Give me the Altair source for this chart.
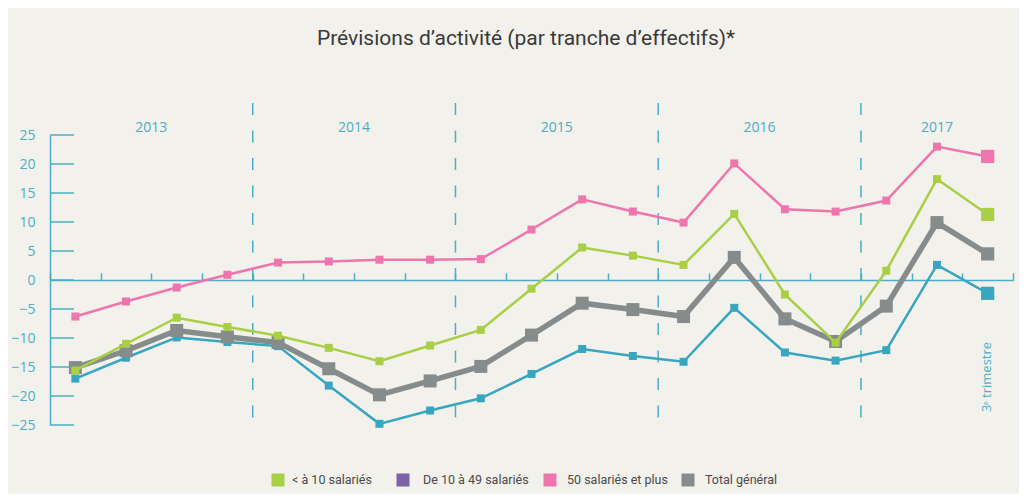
import altair as alt
import pandas as pd

# ---------------- data ----------------
quarters = [
    "2013 T1", "2013 T2", "2013 T3", "2013 T4",
    "2014 T1", "2014 T2", "2014 T3", "2014 T4",
    "2015 T1", "2015 T2", "2015 T3", "2015 T4",
    "2016 T1", "2016 T2", "2016 T3", "2016 T4",
    "2017 T1", "2017 T2", "2017 T3",
]
years = [q.split(" ")[0] for q in quarters]

series_names = ["< à 10 salariés", "De 10 à 49 salariés", "50 salariés et plus", "Total général"]

small = [-15.6, -11.0, -6.5, -8.1, -9.6, -11.7, -14.0, -11.3, -8.6, -1.5,
         5.6, 4.2, 2.6, 11.4, -2.5, -10.8, 1.6, 17.4, 11.3]
medium = [-17.0, -13.4, -9.9, -10.7, -11.4, -18.2, -24.8, -22.5, -20.4, -16.2,
          -11.9, -13.1, -14.1, -4.8, -12.5, -13.9, -12.1, 2.6, -2.3]
large = [-6.3, -3.7, -1.3, 0.9, 3.0, 3.2, 3.5, 3.5, 3.6, 8.7,
         13.9, 11.8, 9.9, 20.1, 12.2, 11.8, 13.7, 23.0, 21.3]
total = [-15.1, -12.2, -8.7, -9.8, -10.8, -15.3, -19.8, -17.4, -14.9, -9.5,
         -4.0, -5.1, -6.3, 3.9, -6.7, -10.6, -4.5, 9.9, 4.5]

y_ticks = [-25, -20, -15, -10, -5, 0, 5, 10, 15, 20, 25]

title_text = "Prévisions d’activité (par tranche d’effectifs)*"
note_text = "3ᵉ trimestre"

# ---------------- styles ----------------
TEAL_AXIS = "#4aaec7"
BG = "#f2f1ec"
line_colors = {
    "< à 10 salariés": "#a8cf45",
    "De 10 à 49 salariés": "#38a6c0",
    "50 salariés et plus": "#ef76ac",
    "Total général": "#868b8c",
}
legend_colors = ["#a8cf45", "#7a62a4", "#ef76ac", "#868b8c"]

# ---------------- tables ----------------
values_by_series = {
    "< à 10 salariés": small,
    "De 10 à 49 salariés": medium,
    "50 salariés et plus": large,
    "Total général": total,
}
rows = []
for s, vals in values_by_series.items():
    for i, (q, v) in enumerate(zip(quarters, vals)):
        rows.append({"idx": i, "quarter": q, "series": s, "value": v})
df = pd.DataFrame(rows)
last_idx = len(quarters) - 1

sep_df = pd.DataFrame({"idx": [i - 0.5 for i in range(1, len(years)) if years[i] != years[i - 1]]})
year_df = (
    pd.DataFrame({"year": years, "idx": range(len(years))})
    .groupby("year", as_index=False)["idx"].mean()
)
ytick_df = pd.DataFrame({"value": y_ticks})

xscale = alt.Scale(domain=[-0.5, len(quarters) - 0.5], nice=False, zero=False)
yscale = alt.Scale(domain=[min(y_ticks), max(y_ticks)], nice=False, zero=False)

x_axis = alt.Axis(
    orient="top", offset=-145, values=[i - 0.5 for i in range(len(quarters) + 1)],
    tickSize=7, tickColor=TEAL_AXIS, tickWidth=1.5, domainColor=TEAL_AXIS,
    domainWidth=1.5, labels=False, title=None, grid=False,
)
y_axis = alt.Axis(
    values=y_ticks, ticks=False, domainColor=TEAL_AXIS, domainWidth=1.5,
    labelColor=TEAL_AXIS, labelFont="Open Sans", labelFontSize=14,
    labelPadding=15, grid=False, title=None, labelOverlap=False,
    labelFlush=False,
)

X = alt.X("idx:Q", scale=xscale, axis=x_axis)
Y = alt.Y("value:Q", scale=yscale, axis=y_axis)

layers = []

# year separators
layers.append(
    alt.Chart(sep_df).mark_rule(color=TEAL_AXIS, strokeWidth=1.5, strokeDash=[12, 15.5]).encode(
        x=X, y=alt.value(-32), y2=alt.value(290)
    )
)
# year labels
layers.append(
    alt.Chart(year_df).mark_text(color=TEAL_AXIS, font="Open Sans", fontSize=14, baseline="middle").encode(
        x=X, y=alt.value(-7), text="year:N"
    )
)
# inward y ticks
layers.append(
    alt.Chart(ytick_df).mark_rule(color=TEAL_AXIS, strokeWidth=1.5).encode(
        y=Y, x=alt.value(0), x2=alt.value(24)
    )
)

draw_order = ["De 10 à 49 salariés", "50 salariés et plus", "Total général", "< à 10 salariés"]
for s in draw_order:
    c = line_colors[s]
    is_total = s == "Total général"
    sw = 5.5 if is_total else 2.5
    psize = 169 if is_total else 64
    base = alt.Chart(df).transform_filter(alt.datum.series == s)
    layers.append(base.mark_line(color=c, strokeWidth=sw).encode(x=X, y=Y))
    layers.append(
        base.transform_filter(alt.datum.idx < last_idx)
        .mark_square(color=c, size=psize, opacity=1)
        .encode(x=X, y=Y)
    )
    layers.append(
        base.transform_filter(alt.datum.idx == last_idx)
        .mark_square(color=c, size=175, opacity=1)
        .encode(x=X, y=Y)
    )

# title
layers.append(
    alt.Chart(pd.DataFrame({"t": [title_text]})).mark_text(
        font="Roboto", fontSize=21, color="#3a3a3a", align="center", baseline="middle"
    ).encode(x=alt.value(476), y=alt.value(-96), text="t:N")
)
# note
layers.append(
    alt.Chart(pd.DataFrame({"t": [note_text]})).mark_text(
        font="Open Sans", fontSize=13, color=TEAL_AXIS, angle=270, align="center", baseline="middle"
    ).encode(x=alt.value(937), y=alt.value(242), text="t:N")
)

# manual legend
legend_sq_x = [228, 353, 500, 638]
legend_tx_x = [242, 373, 517, 655]
for name, col, sx, tx in zip(series_names, legend_colors, legend_sq_x, legend_tx_x):
    ld = pd.DataFrame({"label": [name]})
    layers.append(
        alt.Chart(ld).mark_square(color=col, size=169, opacity=1).encode(
            x=alt.value(sx), y=alt.value(345)
        )
    )
    layers.append(
        alt.Chart(ld).mark_text(font="Roboto", fontSize=12.5, color="#4a4a4a", align="left", baseline="middle").encode(
            x=alt.value(tx), y=alt.value(345), text="label:N"
        )
    )

chart = (
    alt.layer(*layers)
    .properties(
        width=963, height=290,
        autosize=alt.AutoSizeParams(type="none"),
        padding={"left": 42, "top": 127, "right": 6, "bottom": 69},
        background=BG,
    )
    .configure_view(stroke=None)
    .configure_axisY(labelOverlap=False, labelFlush=False)
)

chart.save("out.html", embed_options={"renderer": "svg", "actions": False})
